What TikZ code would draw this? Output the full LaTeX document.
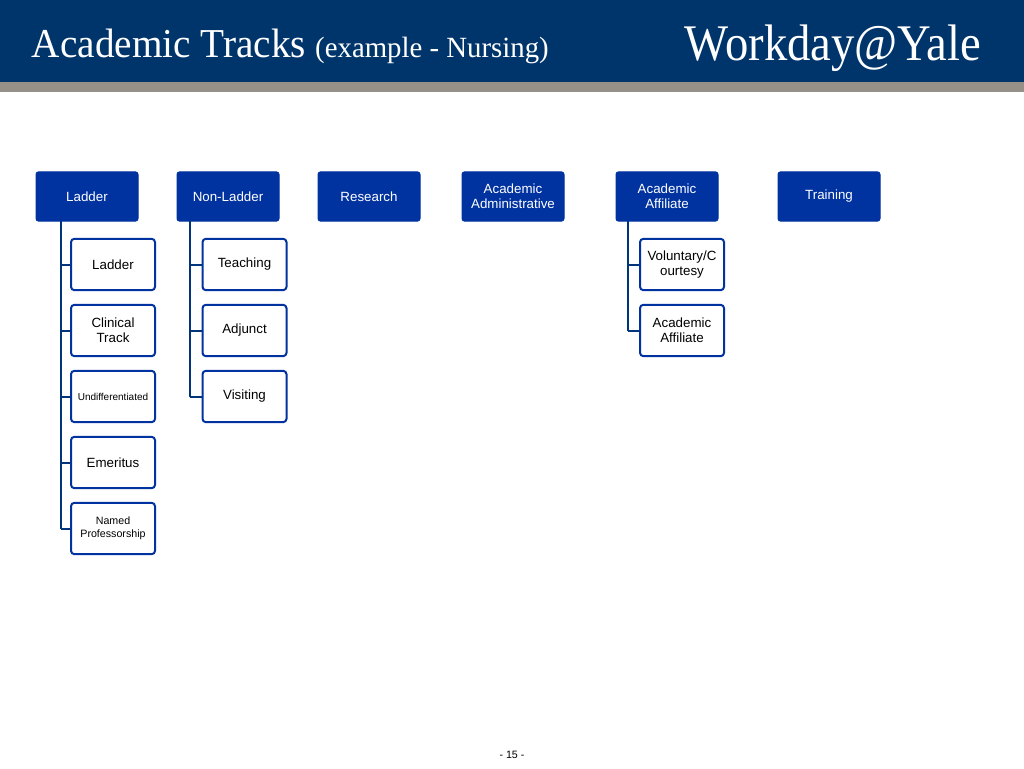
\documentclass[tikz,border=0pt]{standalone}
\usepackage{fontspec}
\setsansfont{Liberation Sans}
\setmainfont{Liberation Serif}
\usetikzlibrary{positioning}
\definecolor{yaleblue}{RGB}{0,53,107}
\definecolor{boxblue}{RGB}{0,51,160}
\definecolor{bandgray}{RGB}{150,144,137}
\tikzset{every picture/.style={line width=0.75pt}}
\tikzset{
  topbox/.style={draw=boxblue,fill=boxblue,rounded corners=2pt,text=white,font=\sffamily\fontsize{10}{11}\selectfont,align=center,minimum width=76.5pt,minimum height=37pt,inner sep=1pt},
  subbox/.style={draw=boxblue,line width=1.5pt,fill=white,rounded corners=2.5pt,font=\sffamily\fontsize{10}{11}\selectfont,align=center,minimum width=63pt,minimum height=38.5pt,inner sep=1pt},
  trunk/.style={draw=yaleblue!70!boxblue,line width=1.5pt}
}
\begin{document}
\begin{tikzpicture}[x=0.75pt,y=0.75pt,yscale=-1,xscale=1]
\useasboundingbox (0,0) rectangle (1024,768);
% header
\fill [yaleblue] (0,0) rectangle (1024,82);
\fill [bandgray] (0,82) rectangle (1024,92);
\draw (27,46) node [anchor=west,text=white,font=\rmfamily] {\fontsize{28}{32}\selectfont\scalebox{1.05}[1.1]{Academic Tracks} {\fontsize{20}{22}\selectfont\scalebox{1.08}[1.1]{(example - Nursing)}}};
\draw (833,48) node [text=white,font=\rmfamily\fontsize{35}{38}\selectfont] {\scalebox{1}[1.1]{Workday@Yale}};
% top row
\node [topbox] (lad) at (87,196.5) {Ladder};
\node [topbox] (nonlad) at (228,196.5) {Non-Ladder};
\node [topbox] (res) at (369,196.5) {Research};
\node [topbox] (acadm) at (513,196.5) {Academic\\Administrative};
\node [topbox] (acaff) at (667,196.5) {Academic\\Affiliate};
\node [topbox] (train) at (829,196.5) {Training};
% ladder children
\node [subbox] (l1) at (113,264.5) {Ladder};
\node [subbox] (l2) at (113,330.5) {Clinical\\Track};
\node [subbox,font=\sffamily\fontsize{7.5}{9}\selectfont] (l3) at (113,396.5) {Undifferentiated};
\node [subbox] (l4) at (113,462.5) {Emeritus};
\node [subbox,font=\sffamily\fontsize{8}{9.5}\selectfont] (l5) at (113,528.5) {Named\\Professorship};
% non-ladder children
\node [subbox] (n1) at (244.5,264.5) {Teaching};
\node [subbox] (n2) at (244.5,330.5) {Adjunct};
\node [subbox] (n3) at (244.5,396.5) {Visiting};
% affiliate children
\node [subbox] (a1) at (682,264.5) {Voluntary/C\\ourtesy};
\node [subbox] (a2) at (682,330.5) {Academic\\Affiliate};
% connectors
\coordinate (lt) at (61,221);
\coordinate (nt) at (190,221);
\coordinate (at) at (628,221);
\draw [trunk] (lt) -- (lt |- l5.west);
\foreach \c in {l1,l2,l3,l4,l5} \draw [trunk] (lt |- \c.west) -- (\c.west);
\draw [trunk] (nt) -- (nt |- n3.west);
\foreach \c in {n1,n2,n3} \draw [trunk] (nt |- \c.west) -- (\c.west);
\draw [trunk] (at) -- (at |- a2.west);
\foreach \c in {a1,a2} \draw [trunk] (at |- \c.west) -- (\c.west);
% page number
\draw (512,755) node [font=\sffamily\fontsize{8}{9}\selectfont] {- 15 -};
\end{tikzpicture}
\end{document}
